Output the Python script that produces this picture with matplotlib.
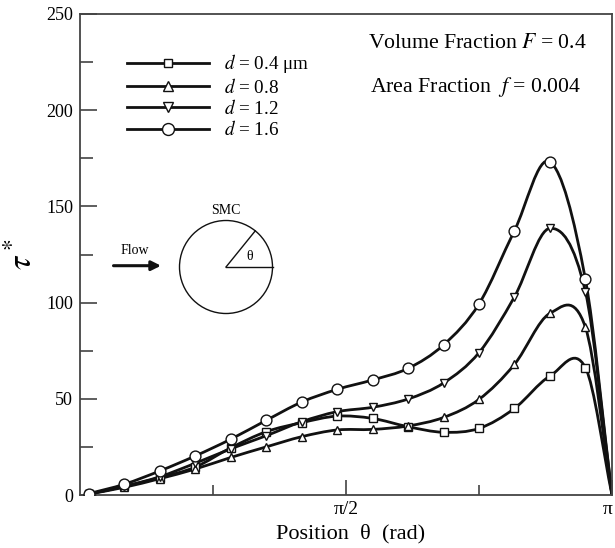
import numpy as np
import matplotlib
matplotlib.use("Agg")
import matplotlib.pyplot as plt
import matplotlib.transforms as mtransforms
from matplotlib.path import Path
from matplotlib.patches import PathPatch, Circle
from matplotlib.lines import Line2D

# ---------------- data ----------------
theta_deg = [3, 15, 27, 39, 51, 63, 75, 87, 99, 111, 123, 135, 147, 159, 171, 180]
tau_d04 = [0.5, 4.5, 9.0, 14.5, 24.5, 32.9, 37.6, 41.0, 39.8, 35.5, 32.6, 34.6, 45.0, 61.8, 66.2, 0.0]
tau_d08 = [0.5, 4.0, 8.5, 13.5, 19.5, 25.0, 30.3, 33.8, 34.1, 35.9, 40.3, 49.7, 67.9, 94.4, 87.2, 0.0]
tau_d12 = [0.5, 4.5, 9.5, 16.5, 24.0, 30.8, 38.1, 43.3, 45.6, 49.9, 58.2, 74.0, 103.0, 138.6, 105.7, 0.0]
tau_d16 = [0.7, 5.6, 12.5, 20.3, 29.0, 38.8, 48.3, 54.9, 59.8, 65.8, 78.0, 99.3, 137.4, 173.2, 112.1, 0.0]
labels = [r"$d$ = 0.4 μm", r"$d$ = 0.8", r"$d$ = 1.2", r"$d$ = 1.6"]
y_ticks = [0, 50, 100, 150, 200, 250]
x_tick_labels = ["π/2", "π"]

plt.rcParams["font.family"] = ["Liberation Serif", "DejaVu Serif"]
plt.rcParams["mathtext.fontset"] = "stix"

fig = plt.figure(figsize=(6.15, 5.48), dpi=100)
W, H = 615.0, 548.0
ax = fig.add_axes([80 / W, 53 / H, 532 / W, 481 / H])

x = np.deg2rad(theta_deg)


def smooth_path(xs, ys):
    xs = np.asarray(xs, float)
    ys = np.asarray(ys, float)
    n = len(xs)
    m = np.empty(n)
    m[1:-1] = (ys[2:] - ys[:-2]) / (xs[2:] - xs[:-2])
    m[0] = (ys[1] - ys[0]) / (xs[1] - xs[0])
    m[-1] = (ys[-1] - ys[-2]) / (xs[-1] - xs[-2])
    verts = [(xs[0], ys[0])]
    codes = [Path.MOVETO]
    for i in range(n - 1):
        h = xs[i + 1] - xs[i]
        verts += [(xs[i] + h / 3, ys[i] + m[i] * h / 3),
                  (xs[i + 1] - h / 3, ys[i + 1] - m[i + 1] * h / 3),
                  (xs[i + 1], ys[i + 1])]
        codes += [Path.CURVE4] * 3
    return Path(verts, codes)


styles = [("s", 5.2), ("^", 6.0), ("v", 6.0), ("o", 7.8)]
series = [tau_d04, tau_d08, tau_d12, tau_d16]
lw = 2.0
handles = []
for ys, (mk, ms) in zip(series, styles):
    ax.add_patch(PathPatch(smooth_path(x, ys), facecolor="none", edgecolor="#111111",
                           lw=lw, zorder=2, capstyle="round", joinstyle="round"))
    ax.plot(x[:-1], ys[:-1], ls="none", marker=mk, ms=ms, mfc="white", mec="#111111",
            mew=1.0, zorder=3)
    handles.append(Line2D([], [], color="#111111", lw=lw, marker=mk, ms=ms * 1.1,
                          mfc="white", mec="#111111", mew=1.0))

ax.set_xlim(0, np.pi)
ax.set_ylim(0, 250)

# ticks
ax.set_yticks(y_ticks)
ax.set_yticks(np.arange(25, 250, 50), minor=True)
ax.set_xticks([np.pi / 2, np.pi])
ax.set_xticklabels(x_tick_labels)
ax.set_xticks([np.pi / 4, 3 * np.pi / 4], minor=True)
ax.tick_params(axis="y", which="major", direction="in", length=12, width=1.1,
               labelsize=13, pad=5, color="#333333", right=False)
ax.tick_params(axis="y", which="minor", direction="in", length=9, width=1.1,
               color="#333333", right=False)
ax.tick_params(axis="x", which="major", direction="in", length=11, width=1.1,
               labelsize=14, pad=4, color="#333333", top=False)
ax.tick_params(axis="x", which="minor", direction="in", length=7, width=1.1,
               color="#333333", top=False)
for s in ax.spines.values():
    s.set_color("#444444")
    s.set_linewidth(1.3)

# nudge the "π" label slightly left so it stays inside the image
pi_lab = ax.get_xticklabels()[-1]
pi_lab.set_transform(pi_lab.get_transform() +
                     mtransforms.ScaledTranslation(-4 / 100, 0, fig.dpi_scale_trans))

ax.set_xlabel("Position  θ  (rad)", fontsize=16)
ax.xaxis.set_label_coords((351 - 80) / 532, (495 - 524) / 481)
ax.set_ylabel(r"$\tau^*$", fontsize=24)
ax.yaxis.set_label_coords((38 - 80) / 532, (495 - 254) / 481)

leg = ax.legend(handles, labels, loc="upper left", bbox_to_anchor=(0.088, 0.92),
                frameon=False, borderpad=0, borderaxespad=0, handlelength=4.3,
                handletextpad=0.75, labelspacing=0.12, fontsize=13.8, numpoints=1)

ax.text((368 - 80) / 532, (495 - 44) / 481, r"Volume Fraction $F$ = 0.4",
        transform=ax.transAxes, fontsize=15.7, ha="left", va="center")
ax.text((370 - 80) / 532, (495 - 87) / 481, r"Area Fraction  $f$ = 0.004",
        transform=ax.transAxes, fontsize=15.7, ha="left", va="center")

# ---------------- inset sketch (SMC cell) ----------------
cx, cy, half = 226, 267, 130  # pixel centre and half-size of inset box
ins = fig.add_axes([(cx - half) / W, (H - cy - half) / H, 2 * half / W, 2 * half / H])
ins.set_xlim(-half, half)
ins.set_ylim(-half, half)
ins.set_aspect("equal")
ins.axis("off")
r = 46.5
ins.add_patch(Circle((0, 0), r, fill=False, lw=1.0, ec="#111111"))
ang = np.deg2rad(51)
ins.plot([0, r * np.cos(ang)], [0, r * np.sin(ang)], color="#111111", lw=1.0)
ins.plot([0, r], [0, 0], color="#111111", lw=1.0)
ins.text(23.5, 11, "θ", fontsize=10, ha="center", va="center")
ins.text(0, 56, "SMC", fontsize=10, ha="center", va="center")
ins.text(-91.5, 17, "Flow", fontsize=10, ha="center", va="center")
ins.annotate("", xy=(-65, 1.3), xytext=(-112.5, 1.3),
             arrowprops=dict(arrowstyle="-|>", lw=2.2, color="#111111",
                             mutation_scale=14, shrinkA=0, shrinkB=0))

fig.savefig("out.png", dpi=100)
